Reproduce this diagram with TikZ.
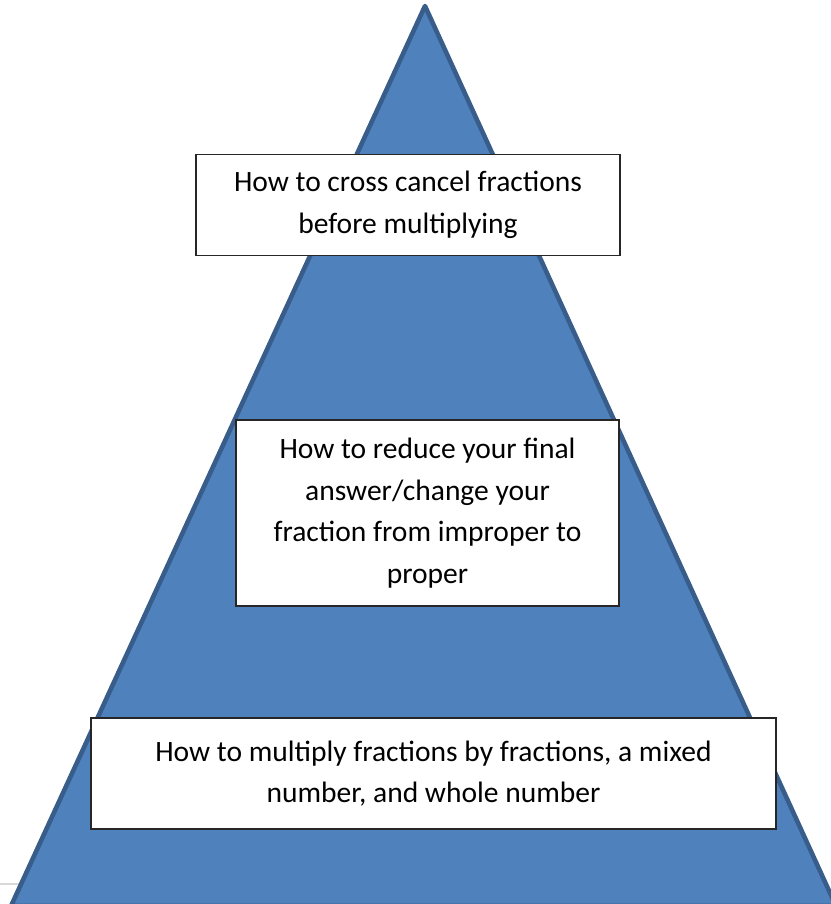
\documentclass[tikz,border=0pt]{standalone}
\usepackage{fontspec}
\setmainfont{Carlito}
\definecolor{pyrfill}{HTML}{4F81BD}
\definecolor{pyrline}{HTML}{385D8A}
\begin{document}
\begin{tikzpicture}[x=0.02cm,y=-0.02cm,
    levelbox/.style={draw=black!85,fill=white,line width=0.8pt,align=center,
      inner sep=0pt,font=\fontsize{16.8}{23.6}\selectfont}]
  \useasboundingbox (0,0) rectangle (831,904);
  \clip (0,0) rectangle (831,904);
  % page rule and pyramid
  \draw[gray!30,line width=0.6pt] (0,884) -- (30,884);
  \draw[fill=pyrfill,draw=pyrline,line width=2.6pt,line join=round]
    (425,6) -- (836,906) -- (11,906) -- cycle;
  % levels
  \node[levelbox,minimum width=8.48cm,minimum height=2.02cm] (top) at (408,205)
    {How to cross cancel fractions\\before multiplying};
  \node[levelbox,minimum width=7.66cm,minimum height=3.72cm] (mid) at (427.5,513)
    {How to reduce your final\\answer/change your\\fraction from improper to\\proper};
  \node[levelbox,minimum width=13.7cm,minimum height=2.22cm] (base) at (433.5,773.5)
    {How to multiply fractions by fractions, a mixed\\number, and whole number};
\end{tikzpicture}
\end{document}
